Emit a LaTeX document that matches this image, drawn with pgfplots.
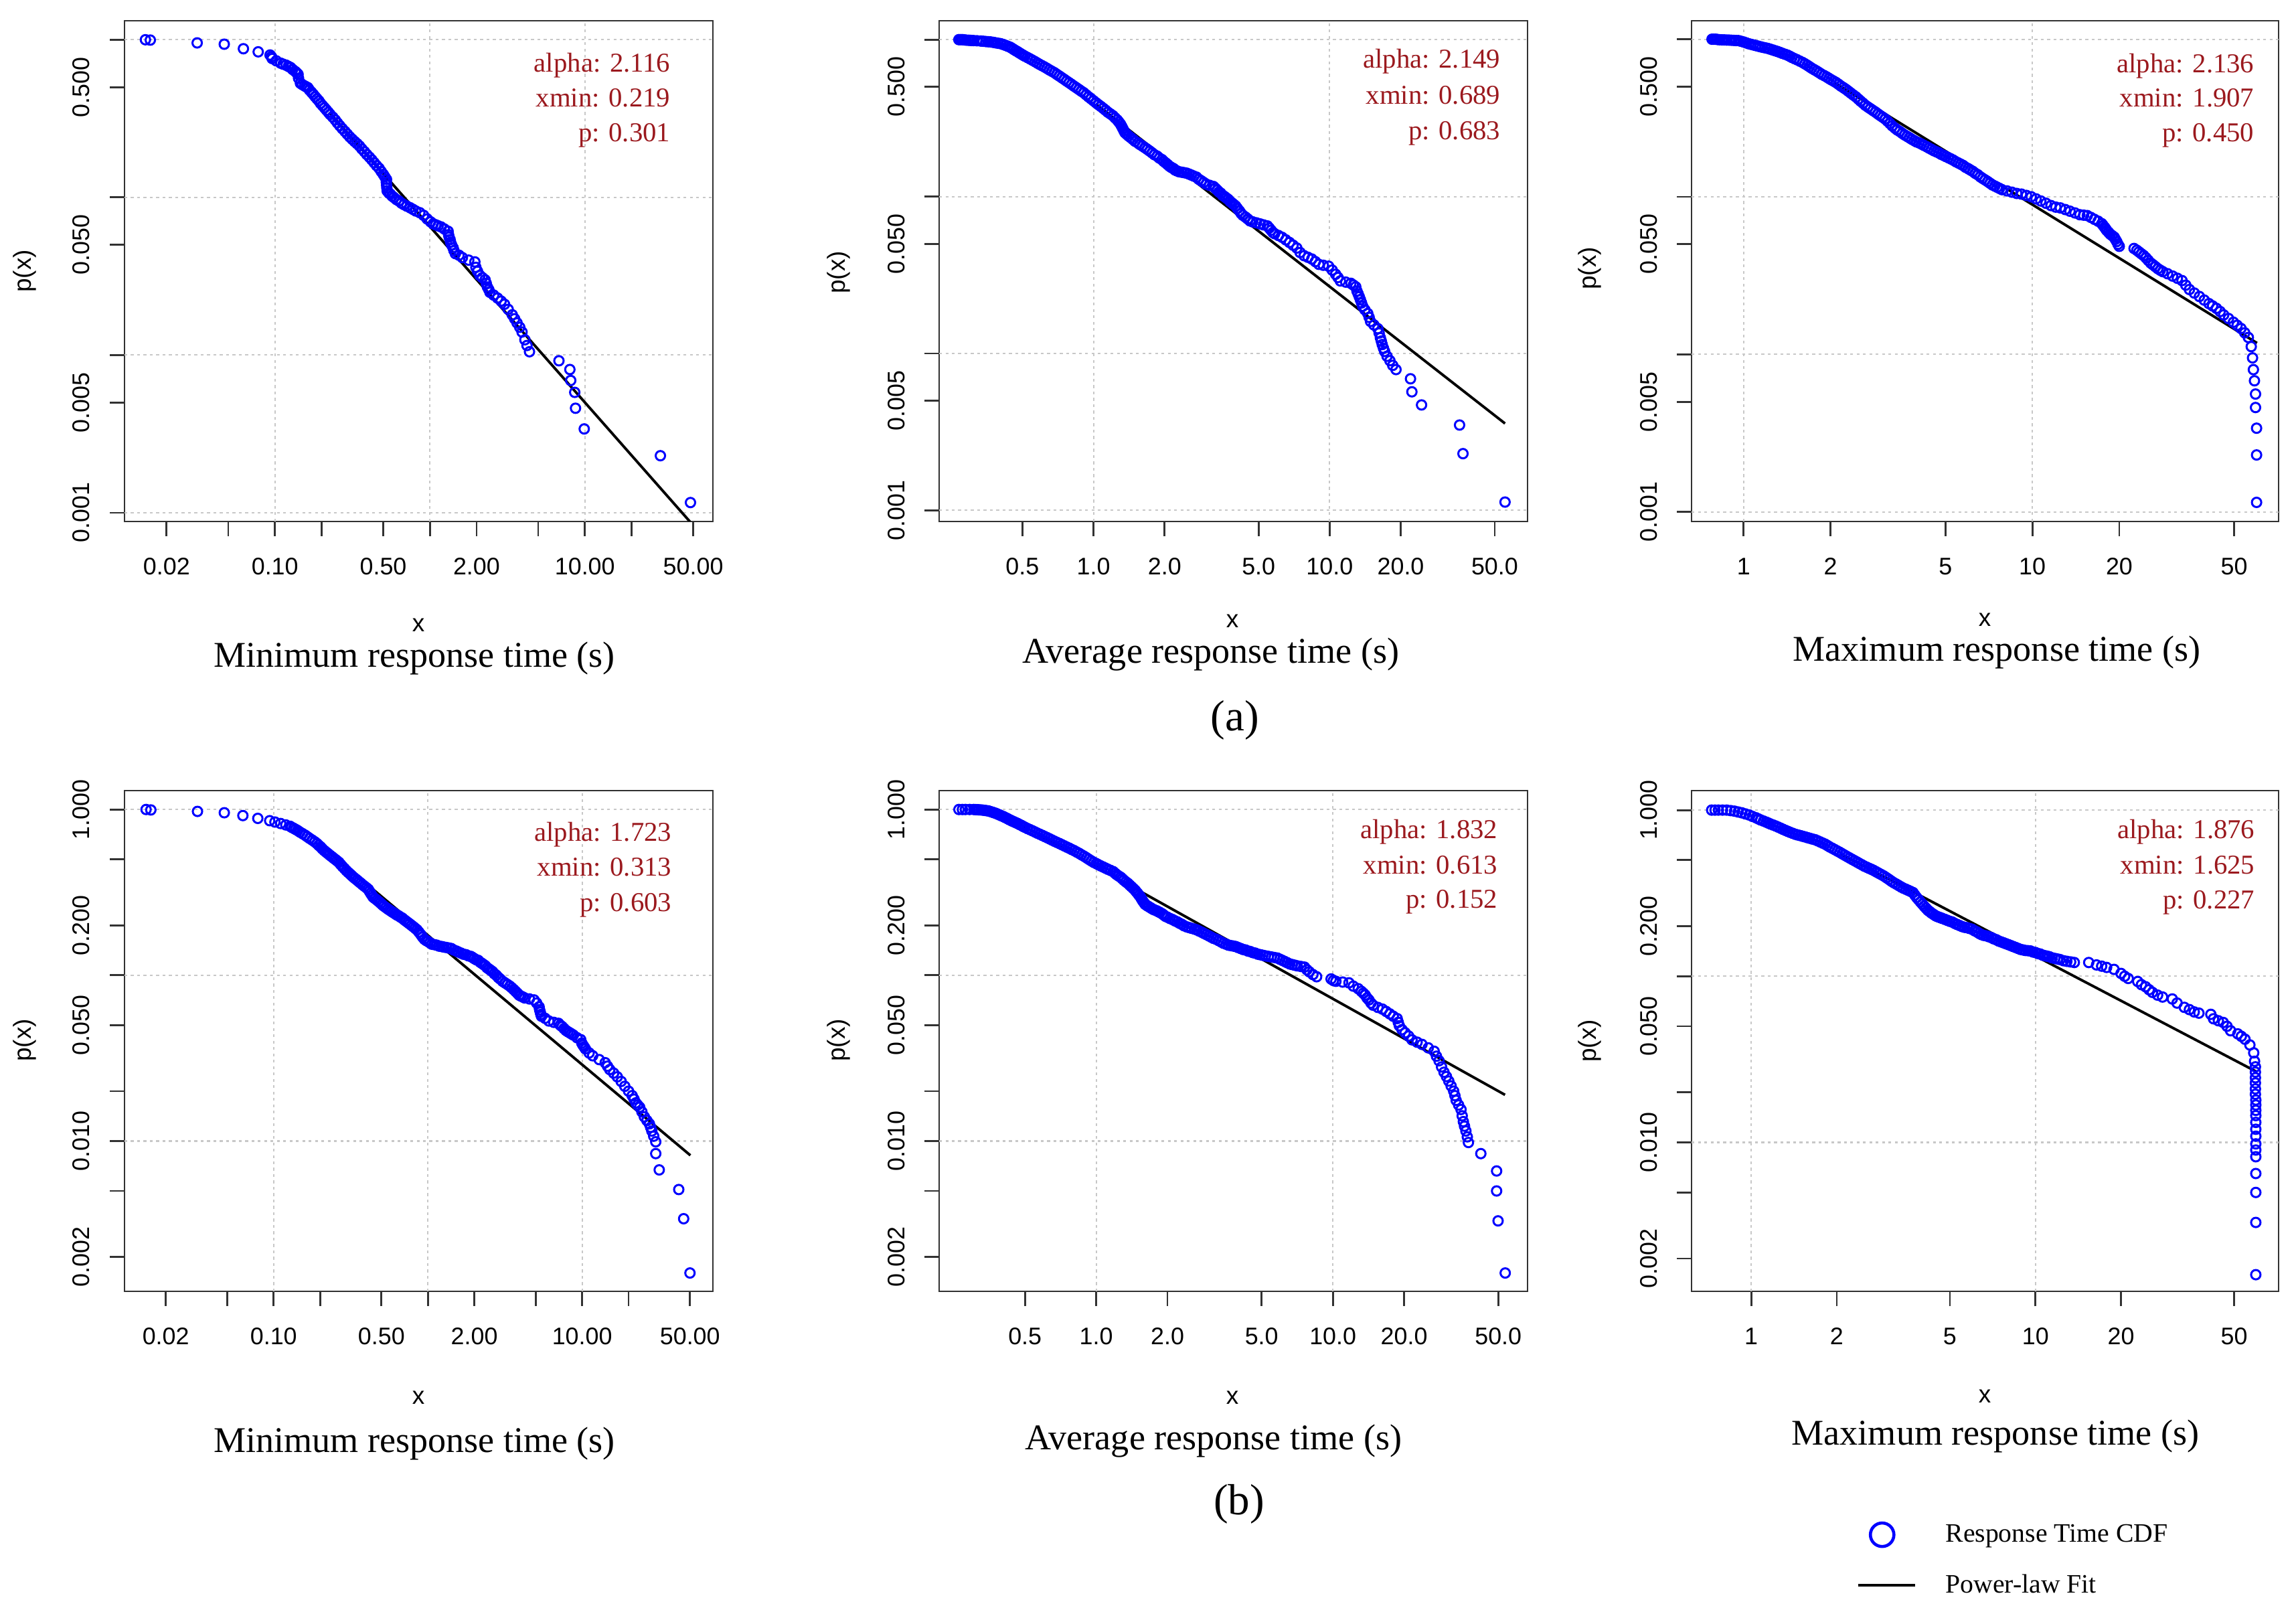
\documentclass[border=0pt]{standalone}
\usepackage{fontspec}
\setmainfont{Liberation Serif}
\setsansfont{Liberation Sans}
\usepackage{pgfplots}
\pgfplotsset{compat=1.18}

\definecolor{annot}{RGB}{155,25,30}
\definecolor{gridgray}{RGB}{200,200,200}
\definecolor{boxgray}{RGB}{50,50,50}

\newcommand{\tickfont}{\sffamily\fontsize{10.2}{12}\selectfont}
\newcommand{\labfont}{\sffamily\fontsize{10.5}{12.5}\selectfont}
\newcommand{\capfont}{\fontsize{15.4}{18}\selectfont}
\newcommand{\annfont}{\fontsize{11.6}{14}\selectfont}
\newcommand{\subfont}{\fontsize{18.5}{22}\selectfont}
\newcommand{\legfont}{\fontsize{11.3}{13.5}\selectfont}

\pgfplotsset{
  respax/.style={
    scale only axis,
    axis line style={boxgray, line width=0.8pt},
    tick align=outside, major tick length=0.22cm,
    tick style={boxgray, line width=0.8pt},
    xtick pos=left, ytick pos=left,
    xticklabel style={font=\tickfont, inner sep=0pt, anchor=north},
    yticklabel style={font=\tickfont, inner sep=0pt, rotate=90, anchor=south},
    xticklabel shift=0.32cm, yticklabel shift=0.29cm,
    extra x ticks={0.1,1,10}, extra x tick labels={},
    extra y ticks={1,0.1,0.01,0.001}, extra y tick labels={},
    extra x tick style={grid=major}, extra y tick style={grid=major},
    major grid style={gridgray, line width=0.6pt, dash pattern=on 1.2pt off 1.5pt},
  },
  cdfpts/.style={only marks, mark=o, mark size=2pt, blue, mark options={line width=0.85pt}, forget plot},
  fitline/.style={no marks, black, line width=1.1pt, forget plot},
  legcirc/.style={only marks, mark=o, mark size=5pt, blue, line width=1.3pt,
    legend image code/.code={\draw[##1] plot coordinates {(0.36cm,0cm)};}},
  legline/.style={black, line width=1pt,
    legend image code/.code={\draw[##1] (0cm,0cm) -- (0.85cm,0cm);}},
  xminresp/.style={xtick={0.02,0.05,0.1,0.2,0.5,1,2,5,10,20,50},
    xticklabels={0.02,,0.10,,0.50,,2.00,,10.00,,50.00}},
  xavgresp/.style={xtick={0.5,1,2,5,10,20,50},
    xticklabels={0.5,1.0,2.0,5.0,10.0,20.0,50.0}},
  xmaxresp/.style={xtick={1,2,5,10,20,50},
    xticklabels={1,2,5,10,20,50}},
  ytop/.style={ytick={0.001,0.005,0.01,0.05,0.1,0.5,1},
    yticklabels={0.001,0.005,,0.050,,0.500,}},
  ybot/.style={ytick={0.002,0.005,0.01,0.02,0.05,0.1,0.2,0.5,1},
    yticklabels={0.002,,0.010,,0.050,,0.200,,1.000}},
}

\begin{document}
\begin{tikzpicture}
\path[use as bounding box] (0,0) rectangle (34.30,24.08);

% ---------- (a) minimum ----------
\begin{loglogaxis}[respax, anchor=south west, at={(1.86cm,16.29cm)}, width=8.79cm, height=7.48cm,
  xmin=0.0107, xmax=67, ymin=0.00088, ymax=1.32, xminresp, ytop]
\addplot[cdfpts] coordinates {
(0.0146,1.0)(0.0157,0.995)(0.0315,0.955)(0.0471,0.937)(0.0626,0.877)(0.078,0.838)
(0.093,0.80)(0.095,0.78)(0.096,0.76)(0.102,0.735)(0.109,0.71)(0.113,0.70)(0.118,0.69)
(0.122,0.678)(0.126,0.667)(0.13,0.648)(0.135,0.63)(0.138,0.617)(0.141,0.604)(0.142,0.57)
(0.146,0.53)(0.15,0.52)(0.155,0.51)(0.159,0.503)(0.163,0.497)(0.167,0.48)(0.172,0.465)
(0.177,0.45)(0.182,0.435)(0.187,0.422)(0.192,0.41)(0.197,0.395)(0.203,0.382)(0.209,0.37)
(0.215,0.358)(0.221,0.347)(0.227,0.336)(0.236,0.323)(0.245,0.31)(0.253,0.297)(0.262,0.285)
(0.272,0.273)(0.283,0.262)(0.293,0.252)(0.304,0.242)(0.315,0.234)(0.327,0.226)(0.339,0.219)
(0.351,0.212)(0.364,0.203)(0.378,0.195)(0.392,0.187)(0.407,0.18)(0.422,0.173)(0.437,0.166)
(0.453,0.159)(0.47,0.153)(0.485,0.146)(0.50,0.14)(0.512,0.135)(0.525,0.13)(0.523,0.125)
(0.525,0.12)(0.527,0.115)(0.53,0.11)(0.542,0.107)(0.555,0.105)(0.57,0.102)(0.585,0.1)
(0.607,0.097)(0.63,0.095)(0.655,0.092)(0.68,0.09)(0.71,0.088)(0.745,0.086)(0.777,0.084)
(0.81,0.082)(0.86,0.08)(0.91,0.077)(0.96,0.073)(1.01,0.07)(1.05,0.068)(1.09,0.067)
(1.13,0.066)(1.18,0.065)(1.24,0.063)(1.31,0.061)(1.32,0.058)(1.33,0.056)(1.35,0.054)
(1.36,0.052)(1.38,0.05)(1.41,0.048)(1.43,0.046)(1.46,0.044)(1.54,0.043)(1.62,0.0415)
(1.78,0.04)(1.95,0.039)(1.98,0.036)(2.03,0.034)(2.1,0.032)(2.18,0.031)(2.27,0.03)
(2.31,0.0285)(2.35,0.027)(2.4,0.026)(2.44,0.025)(2.58,0.024)(2.73,0.023)(2.88,0.022)
(3.03,0.021)(3.2,0.0195)(3.4,0.018)(3.52,0.017)(3.65,0.016)(3.8,0.015)(3.93,0.014)
(4.1,0.0125)(4.23,0.0115)(4.39,0.0105)(6.8,0.0092)(8.0,0.0081)(8.1,0.0069)
(8.6,0.0058)(8.7,0.0046)(9.9,0.0034)(30.7,0.0023)(48,0.00116)
};
\addplot[fitline] coordinates {(0.224,0.347)(48,0.00087)};
\end{loglogaxis}

% ---------- (a) average ----------
\begin{loglogaxis}[respax, anchor=south west, at={(14.03cm,16.29cm)}, width=8.79cm, height=7.48cm,
  xmin=0.222, xmax=68.9, ymin=0.00085, ymax=1.32, xavgresp, ytop]
\addplot[cdfpts] coordinates {
(0.269,1.0)(0.274,1.0)(0.279,1.0)(0.284,0.996)(0.289,0.993)(0.295,0.991)(0.30,0.99)
(0.305,0.988)(0.31,0.987)(0.321,0.984)(0.333,0.98)(0.341,0.977)(0.35,0.973)(0.358,0.97)
(0.367,0.967)(0.376,0.961)(0.385,0.955)(0.394,0.949)(0.404,0.943)(0.414,0.932)(0.424,0.92)
(0.434,0.907)(0.444,0.895)(0.452,0.88)(0.46,0.865)(0.468,0.851)(0.477,0.838)(0.485,0.824)
(0.494,0.81)(0.503,0.797)(0.512,0.785)(0.525,0.77)(0.538,0.755)(0.551,0.74)(0.564,0.726)
(0.577,0.711)(0.59,0.697)(0.605,0.683)(0.62,0.67)(0.635,0.656)(0.65,0.642)(0.666,0.629)
(0.683,0.616)(0.699,0.601)(0.716,0.587)(0.733,0.573)(0.751,0.559)(0.769,0.545)(0.788,0.532)
(0.807,0.519)(0.826,0.506)(0.846,0.494)(0.866,0.482)(0.887,0.47)(0.909,0.459)(0.931,0.445)
(0.953,0.432)(0.976,0.42)(1.0,0.408)(1.025,0.396)(1.05,0.385)(1.075,0.375)(1.1,0.365)
(1.125,0.355)(1.15,0.345)(1.18,0.336)(1.21,0.327)(1.235,0.317)(1.26,0.308)(1.28,0.299)
(1.3,0.29)(1.315,0.281)(1.33,0.272)(1.345,0.263)(1.36,0.255)(1.385,0.249)(1.41,0.243)
(1.44,0.237)(1.47,0.231)(1.5,0.225)(1.54,0.22)(1.57,0.215)(1.61,0.21)(1.65,0.205)
(1.69,0.2)(1.73,0.195)(1.77,0.19)(1.81,0.185)(1.86,0.181)(1.9,0.176)(1.95,0.172)
(1.98,0.168)(2.02,0.164)(2.06,0.16)(2.1,0.156)(2.14,0.153)(2.18,0.151)(2.21,0.148)
(2.25,0.146)(2.3,0.144)(2.36,0.143)(2.42,0.142)(2.48,0.141)(2.54,0.139)(2.6,0.137)
(2.66,0.135)(2.73,0.133)(2.79,0.129)(2.86,0.126)(2.93,0.123)(3.0,0.12)(3.1,0.118)
(3.22,0.116)(3.28,0.113)(3.34,0.11)(3.4,0.107)(3.46,0.105)(3.52,0.102)(3.59,0.1)
(3.65,0.098)(3.72,0.096)(3.79,0.093)(3.86,0.091)(3.93,0.089)(4.0,0.087)(4.07,0.084)
(4.15,0.081)(4.22,0.078)(4.29,0.076)(4.4,0.074)(4.5,0.072)(4.6,0.07)(4.72,0.069)
(4.9,0.068)(5.07,0.067)(5.25,0.066)(5.45,0.065)(5.55,0.063)(5.65,0.061)(5.75,0.059)
(5.85,0.058)(6.07,0.0565)(6.29,0.055)(6.52,0.053)(6.76,0.051)(7.0,0.049)(7.26,0.047)
(7.5,0.044)(7.8,0.042)(8.1,0.041)(8.4,0.04)(8.7,0.0385)(9.0,0.037)(9.4,0.0365)
(9.9,0.036)(10.25,0.034)(10.6,0.032)(10.85,0.0305)(11.1,0.029)(11.7,0.0285)(12.3,0.028)
(12.6,0.0273)(12.9,0.0266)(13.05,0.025)(13.2,0.024)(13.35,0.023)(13.5,0.022)(13.65,0.021)
(13.8,0.02)(14.1,0.019)(14.5,0.018)(14.7,0.017)(14.9,0.016)(15.4,0.0152)(16.0,0.0144)
(16.2,0.0135)(16.4,0.0126)(16.55,0.012)(16.7,0.0114)(16.9,0.0108)(17.1,0.0103)
(17.5,0.0096)(18.0,0.009)(18.5,0.0084)(19.1,0.0079)(22.0,0.0069)(22.3,0.0057)
(24.5,0.0047)(35.5,0.0035)(36.7,0.0023)(55.3,0.00113)
};
\addplot[fitline] coordinates {(1.02,0.39)(55.3,0.00358)};
\end{loglogaxis}

% ---------- (a) maximum ----------
\begin{loglogaxis}[respax, anchor=south west, at={(25.27cm,16.29cm)}, width=8.77cm, height=7.48cm,
  xmin=0.66, xmax=71.3, ymin=0.00087, ymax=1.31, xmaxresp, ytop]
\addplot[cdfpts] coordinates {
(0.777,1.0)(0.788,1.0)(0.80,1.0)(0.811,0.996)(0.823,0.993)(0.84,0.991)(0.856,0.99)
(0.873,0.988)(0.89,0.987)(0.907,0.985)(0.925,0.983)(0.942,0.981)(0.96,0.98)(0.98,0.97)
(1.0,0.96)(1.02,0.948)(1.04,0.936)(1.06,0.928)(1.08,0.92)(1.1,0.912)(1.12,0.905)
(1.14,0.897)(1.16,0.89)(1.185,0.882)(1.21,0.875)(1.235,0.865)(1.26,0.855)(1.285,0.845)
(1.31,0.836)(1.335,0.825)(1.36,0.814)(1.39,0.803)(1.42,0.792)(1.445,0.779)(1.47,0.766)
(1.5,0.753)(1.53,0.741)(1.565,0.726)(1.6,0.712)(1.63,0.698)(1.66,0.684)(1.69,0.669)
(1.72,0.655)(1.755,0.641)(1.79,0.628)(1.825,0.614)(1.86,0.60)(1.9,0.588)(1.94,0.576)
(1.975,0.564)(2.01,0.553)(2.05,0.542)(2.09,0.531)(2.13,0.518)(2.17,0.505)(2.215,0.493)
(2.26,0.481)(2.305,0.468)(2.35,0.455)(2.4,0.442)(2.45,0.43)(2.495,0.417)(2.54,0.405)
(2.59,0.393)(2.64,0.381)(2.695,0.371)(2.75,0.362)(2.805,0.353)(2.86,0.345)(2.915,0.336)
(2.97,0.328)(3.03,0.32)(3.09,0.312)(3.15,0.302)(3.21,0.292)(3.27,0.282)(3.34,0.273)
(3.4,0.266)(3.47,0.26)(3.54,0.253)(3.61,0.247)(3.68,0.242)(3.75,0.237)(3.82,0.232)
(3.9,0.227)(3.97,0.223)(4.05,0.22)(4.13,0.216)(4.21,0.212)(4.3,0.208)(4.38,0.204)
(4.47,0.2)(4.56,0.196)(4.65,0.193)(4.74,0.19)(4.83,0.186)(4.93,0.183)(5.02,0.18)
(5.12,0.177)(5.22,0.174)(5.32,0.171)(5.43,0.167)(5.54,0.164)(5.65,0.161)(5.76,0.158)
(5.87,0.154)(5.99,0.151)(6.1,0.148)(6.22,0.145)(6.34,0.141)(6.47,0.138)(6.6,0.134)
(6.72,0.131)(6.86,0.128)(7.0,0.125)(7.13,0.122)(7.27,0.119)(7.41,0.117)(7.55,0.115)
(7.7,0.113)(7.85,0.111)(8.17,0.109)(8.49,0.107)(8.83,0.105)(9.17,0.104)(9.54,0.102)
(9.91,0.1)(10.3,0.097)(10.7,0.094)(11.15,0.091)(11.6,0.088)(12.05,0.086)(12.5,0.085)
(13.0,0.083)(13.5,0.081)(14.05,0.079)(14.6,0.077)(15.05,0.0765)(15.5,0.076)(15.95,0.074)
(16.4,0.072)(16.9,0.07)(17.4,0.0675)(17.6,0.0657)(17.8,0.064)(17.95,0.0626)(18.1,0.0612)
(18.35,0.0596)(18.6,0.058)(18.9,0.0567)(19.2,0.0555)(19.4,0.0537)(19.6,0.052)(19.8,0.05)
(20.0,0.0485)(22.5,0.047)(23.0,0.0458)(23.4,0.0447)(23.85,0.0435)(24.3,0.0424)(24.75,0.041)
(25.2,0.0395)(25.7,0.038)(26.2,0.037)(26.7,0.036)(27.2,0.035)(27.75,0.0342)(28.3,0.0335)
(29.4,0.0325)(30.6,0.0314)(31.8,0.0304)(33.0,0.0294)(34.0,0.0275)(35.0,0.0258)(36.4,0.0245)
(37.9,0.0233)(39.4,0.0221)(40.9,0.021)(42.1,0.0203)(43.4,0.0196)(44.7,0.0187)(46.0,0.0178)
(47.8,0.0169)(49.7,0.016)(51.2,0.0153)(52.8,0.0146)(54.4,0.0137)(56.0,0.0128)(57.3,0.0112)
(57.9,0.0095)(58.3,0.0080)(58.8,0.0068)(59.3,0.0056)(59.3,0.0046)(59.8,0.0034)
(59.8,0.0023)(59.8,0.00115)
};
\addplot[fitline] coordinates {(2.06,0.531)(60,0.0118)};
\end{loglogaxis}

% ---------- (b) minimum ----------
\begin{loglogaxis}[respax, anchor=south west, at={(1.86cm,4.79cm)}, width=8.79cm, height=7.48cm,
  xmin=0.0108, xmax=70.4, ymin=0.00124, ymax=1.30, xminresp, ybot]
\addplot[cdfpts] coordinates {
(0.0149,1.0)(0.016,0.994)(0.0321,0.974)(0.0479,0.956)(0.0632,0.919)(0.079,0.884)
(0.0943,0.856)(0.102,0.84)(0.111,0.823)(0.12,0.807)(0.128,0.792)(0.131,0.781)(0.135,0.77)
(0.139,0.758)(0.143,0.747)(0.148,0.731)(0.154,0.715)(0.16,0.7)(0.165,0.686)(0.171,0.67)
(0.178,0.654)(0.185,0.638)(0.191,0.623)(0.196,0.608)(0.202,0.594)(0.207,0.579)(0.213,0.565)
(0.219,0.553)(0.225,0.542)(0.231,0.531)(0.238,0.52)(0.244,0.51)(0.251,0.50)(0.258,0.49)
(0.265,0.48)(0.272,0.466)(0.28,0.452)(0.288,0.44)(0.296,0.428)(0.304,0.418)(0.313,0.408)
(0.321,0.399)(0.33,0.39)(0.339,0.382)(0.349,0.374)(0.358,0.366)(0.368,0.359)(0.378,0.351)
(0.389,0.344)(0.4,0.337)(0.411,0.33)(0.418,0.321)(0.426,0.312)(0.434,0.304)(0.442,0.296)
(0.455,0.29)(0.468,0.284)(0.481,0.278)(0.494,0.272)(0.507,0.266)(0.52,0.261)(0.535,0.256)
(0.55,0.251)(0.565,0.247)(0.58,0.243)(0.596,0.239)(0.613,0.235)(0.63,0.231)(0.648,0.228)
(0.666,0.224)(0.684,0.221)(0.703,0.216)(0.722,0.212)(0.742,0.208)(0.763,0.204)(0.784,0.2)
(0.806,0.196)(0.828,0.192)(0.851,0.188)(0.875,0.182)(0.9,0.176)(0.924,0.17)(0.949,0.165)
(0.975,0.162)(1.0,0.16)(1.03,0.157)(1.06,0.154)(1.1,0.153)(1.14,0.152)(1.18,0.15)
(1.23,0.149)(1.27,0.148)(1.32,0.147)(1.37,0.146)(1.42,0.145)(1.47,0.142)(1.53,0.14)
(1.58,0.138)(1.64,0.136)(1.7,0.134)(1.77,0.133)(1.83,0.131)(1.9,0.13)(1.95,0.128)
(2.0,0.126)(2.06,0.124)(2.12,0.123)(2.18,0.12)(2.24,0.118)(2.3,0.116)(2.36,0.114)
(2.42,0.111)(2.49,0.109)(2.56,0.107)(2.63,0.105)(2.7,0.102)(2.78,0.1)(2.86,0.097)
(2.94,0.095)(3.05,0.092)(3.16,0.09)(3.28,0.088)(3.4,0.086)(3.5,0.084)(3.6,0.082)
(3.7,0.08)(3.8,0.078)(3.9,0.076)(4.0,0.075)(4.12,0.074)(4.24,0.073)(4.55,0.072)
(4.88,0.071)(5.07,0.068)(5.26,0.0645)(5.3,0.062)(5.35,0.06)(5.4,0.058)(5.45,0.0566)
(5.75,0.055)(6.08,0.053)(6.55,0.052)(7.03,0.0513)(7.22,0.05)(7.42,0.049)(7.63,0.0477)
(7.85,0.0465)(8.07,0.0457)(8.3,0.045)(8.53,0.0443)(8.77,0.0436)(9.27,0.042)(9.79,0.0409)
(9.95,0.039)(10.1,0.038)(10.3,0.037)(10.5,0.036)(11.1,0.034)(11.7,0.0327)(12.9,0.031)
(14.1,0.0297)(14.6,0.0283)(15.1,0.027)(16.0,0.0257)(16.9,0.0244)(17.9,0.0229)(18.9,0.0214)
(20.0,0.02)(21.1,0.0188)(21.7,0.0179)(22.3,0.017)(22.9,0.0165)(23.6,0.016)(24.4,0.015)
(25.3,0.014)(26.3,0.0133)(27.3,0.0127)(27.8,0.0121)(28.3,0.0115)(29.1,0.0107)(30.0,0.0099)
(30.0,0.0084)(31.6,0.0067)(42.3,0.0051)(45.5,0.0034)(50.0,0.0016)
};
\addplot[fitline] coordinates {(0.2,0.611)(50.3,0.0082)};
\end{loglogaxis}

% ---------- (b) average ----------
\begin{loglogaxis}[respax, anchor=south west, at={(14.03cm,4.79cm)}, width=8.79cm, height=7.48cm,
  xmin=0.217, xmax=66.5, ymin=0.00124, ymax=1.30, xavgresp, ybot]
\addplot[cdfpts] coordinates {
(0.263,1.0)(0.272,1.0)(0.28,1.0)(0.292,1.0)(0.304,1.0)(0.31,0.998)(0.315,0.997)(0.32,0.995)
(0.326,0.994)(0.332,0.991)(0.338,0.988)(0.344,0.984)(0.35,0.981)(0.356,0.973)(0.363,0.965)
(0.369,0.957)(0.376,0.949)(0.383,0.938)(0.39,0.928)(0.397,0.917)(0.405,0.907)(0.412,0.895)
(0.42,0.884)(0.427,0.872)(0.435,0.861)(0.442,0.851)(0.45,0.842)(0.458,0.832)(0.466,0.823)
(0.474,0.812)(0.483,0.802)(0.491,0.791)(0.5,0.781)(0.512,0.768)(0.525,0.756)(0.538,0.744)
(0.551,0.732)(0.564,0.72)(0.578,0.709)(0.592,0.698)(0.606,0.687)(0.621,0.676)(0.636,0.665)
(0.651,0.654)(0.667,0.643)(0.683,0.633)(0.70,0.623)(0.717,0.613)(0.734,0.603)(0.752,0.593)
(0.77,0.584)(0.788,0.574)(0.807,0.565)(0.827,0.554)(0.847,0.544)(0.867,0.533)(0.888,0.523)
(0.909,0.512)(0.93,0.501)(0.953,0.49)(0.976,0.48)(1.0,0.472)(1.02,0.465)(1.045,0.457)
(1.07,0.45)(1.095,0.443)(1.12,0.436)(1.15,0.429)(1.18,0.422)(1.2,0.413)(1.22,0.405)
(1.245,0.397)(1.27,0.39)(1.29,0.382)(1.31,0.374)(1.335,0.366)(1.36,0.359)(1.385,0.35)
(1.41,0.342)(1.435,0.334)(1.46,0.326)(1.48,0.318)(1.5,0.311)(1.52,0.303)(1.54,0.296)
(1.555,0.289)(1.57,0.282)(1.59,0.275)(1.61,0.268)(1.64,0.263)(1.67,0.259)(1.7,0.255)
(1.73,0.251)(1.76,0.248)(1.8,0.245)(1.83,0.242)(1.86,0.239)(1.9,0.235)(1.93,0.231)
(1.96,0.227)(2.0,0.224)(2.05,0.22)(2.1,0.217)(2.15,0.213)(2.2,0.21)(2.25,0.206)(2.3,0.203)
(2.35,0.199)(2.41,0.196)(2.47,0.194)(2.53,0.192)(2.6,0.19)(2.66,0.188)(2.72,0.185)
(2.79,0.182)(2.85,0.179)(2.92,0.176)(2.99,0.173)(3.06,0.17)(3.13,0.167)(3.21,0.165)
(3.29,0.162)(3.37,0.159)(3.45,0.156)(3.54,0.154)(3.62,0.152)(3.71,0.151)(3.8,0.15)
(3.89,0.149)(3.98,0.147)(4.08,0.145)(4.18,0.143)(4.28,0.142)(4.38,0.14)(4.48,0.139)
(4.59,0.137)(4.7,0.136)(4.82,0.134)(4.94,0.133)(5.06,0.132)(5.18,0.131)(5.34,0.13)
(5.5,0.129)(5.66,0.128)(5.83,0.127)(5.97,0.125)(6.12,0.123)(6.27,0.121)(6.42,0.119)
(6.58,0.117)(6.74,0.116)(6.9,0.115)(7.07,0.114)(7.33,0.113)(7.59,0.112)(7.77,0.108)
(7.95,0.105)(8.24,0.101)(8.54,0.098)(9.83,0.095)(10.05,0.093)(10.3,0.092)(11.0,0.091)
(11.7,0.09)(12.2,0.086)(12.8,0.083)(13.2,0.08)(13.45,0.078)(13.7,0.076)(13.95,0.073)
(14.2,0.071)(14.5,0.068)(14.8,0.066)(15.5,0.064)(16.2,0.0625)(16.8,0.0605)(17.4,0.0585)
(18.0,0.0566)(18.7,0.0548)(18.9,0.052)(19.1,0.0496)(19.6,0.047)(20.2,0.045)(20.9,0.043)
(21.6,0.0408)(22.7,0.0395)(23.8,0.0383)(25.3,0.0365)(26.8,0.0348)(27.4,0.0325)(28.1,0.0305)
(28.8,0.028)(29.5,0.026)(30.2,0.0245)(30.9,0.023)(31.6,0.0215)(32.4,0.02)(32.8,0.0188)
(33.2,0.0176)(34.0,0.0165)(34.8,0.0155)(35.2,0.0142)(35.6,0.0131)(36.0,0.0123)(36.5,0.0115)
(37.0,0.0106)(37.4,0.0098)(42.2,0.0084)(49.2,0.0066)(49.2,0.005)(49.9,0.0033)(53.5,0.0016)
};
\addplot[fitline] coordinates {(0.49,0.797)(53.4,0.019)};
\end{loglogaxis}

% ---------- (b) maximum ----------
\begin{loglogaxis}[respax, anchor=south west, at={(25.27cm,4.79cm)}, width=8.77cm, height=7.48cm,
  xmin=0.617, xmax=71.7, ymin=0.00127, ymax=1.31, xmaxresp, ybot,
  legend style={at={(0.2816,-0.4626)}, anchor=north west, draw=none, fill=none,
    inner sep=0pt, outer sep=0pt, column sep=0.44cm, row sep=0.415cm,
    font=\legfont, nodes={inner sep=0pt}},
  legend cell align=left]
\addplot[cdfpts] coordinates {
(0.726,1.0)(0.746,1.0)(0.767,1.0)(0.793,1.0)(0.82,1.0)(0.847,0.993)(0.874,0.985)(0.9,0.974)
(0.927,0.963)(0.955,0.948)(0.984,0.934)(1.01,0.916)(1.04,0.899)(1.06,0.885)(1.08,0.872)
(1.105,0.859)(1.13,0.846)(1.15,0.835)(1.17,0.824)(1.195,0.813)(1.22,0.802)(1.245,0.79)
(1.27,0.778)(1.295,0.766)(1.32,0.755)(1.345,0.745)(1.37,0.735)(1.4,0.725)(1.43,0.715)
(1.46,0.708)(1.49,0.702)(1.52,0.695)(1.55,0.689)(1.58,0.682)(1.61,0.676)(1.645,0.669)
(1.68,0.663)(1.715,0.653)(1.75,0.643)(1.785,0.633)(1.82,0.624)(1.855,0.612)(1.89,0.6)
(1.93,0.589)(1.97,0.578)(2.01,0.567)(2.05,0.557)(2.09,0.546)(2.13,0.536)(2.175,0.525)
(2.22,0.515)(2.265,0.505)(2.31,0.496)(2.355,0.487)(2.4,0.478)(2.45,0.469)(2.5,0.46)
(2.55,0.453)(2.6,0.446)(2.65,0.44)(2.7,0.433)(2.755,0.425)(2.81,0.417)(2.87,0.409)
(2.93,0.401)(2.99,0.392)(3.05,0.383)(3.11,0.374)(3.17,0.366)(3.235,0.359)(3.3,0.352)
(3.365,0.345)(3.43,0.339)(3.5,0.334)(3.57,0.329)(3.64,0.324)(3.71,0.319)(3.765,0.308)
(3.82,0.298)(3.88,0.289)(3.94,0.28)(4.0,0.272)(4.06,0.264)(4.12,0.257)(4.18,0.25)
(4.245,0.245)(4.31,0.24)(4.375,0.236)(4.44,0.232)(4.505,0.229)(4.57,0.227)(4.635,0.225)
(4.7,0.223)(4.8,0.22)(4.9,0.217)(5.0,0.214)(5.1,0.212)(5.2,0.208)(5.3,0.205)(5.41,0.202)
(5.52,0.199)(5.63,0.197)(5.75,0.196)(5.86,0.194)(5.98,0.192)(6.1,0.188)(6.22,0.185)
(6.34,0.181)(6.46,0.178)(6.59,0.176)(6.72,0.175)(6.85,0.173)(6.99,0.171)(7.13,0.168)
(7.28,0.166)(7.42,0.163)(7.57,0.161)(7.72,0.159)(7.87,0.157)(8.03,0.155)(8.19,0.153)
(8.35,0.151)(8.52,0.149)(8.69,0.147)(8.86,0.145)(9.04,0.144)(9.22,0.143)(9.41,0.1425)
(9.6,0.142)(9.8,0.14)(10.0,0.139)(10.2,0.137)(10.4,0.136)(10.6,0.134)(10.8,0.133)
(11.0,0.132)(11.2,0.131)(11.45,0.129)(11.7,0.128)(11.95,0.127)(12.2,0.126)(12.55,0.124)
(12.9,0.123)(13.3,0.122)(13.7,0.121)(15.4,0.121)(16.4,0.117)(17.1,0.115)(17.8,0.113)
(18.9,0.11)(20.0,0.104)(20.6,0.1)(21.2,0.097)(22.9,0.093)(23.6,0.089)(24.4,0.0865)
(25.1,0.083)(25.8,0.08)(26.9,0.077)(28.0,0.075)(30.3,0.073)(31.5,0.069)(33.4,0.065)
(34.8,0.063)(36.2,0.061)(37.6,0.06)(41.4,0.059)(42.3,0.0555)(44.0,0.054)(45.8,0.0527)
(47.2,0.05)(48.6,0.047)(51.5,0.045)(53.0,0.0435)(54.6,0.0418)(56.8,0.0386)(58.6,0.0346)
(59.0,0.0308)(59.4,0.0285)(59.4,0.0265)(59.4,0.0245)(59.4,0.0228)(59.4,0.021)
(59.4,0.0195)(59.6,0.018)(59.6,0.0168)(59.6,0.0156)(59.6,0.0145)(59.6,0.0132)
(59.6,0.012)(59.6,0.0109)(59.6,0.0098)(59.6,0.009)(59.6,0.0082)(59.6,0.0065)
(59.6,0.005)(59.6,0.0033)(59.6,0.0016)
};
\addplot[fitline] coordinates {(2.05,0.548)(60.3,0.0265)};
\addlegendimage{legcirc}
\addlegendentry{Response Time CDF}
\addlegendimage{legline}
\addlegendentry{Power-law Fit}
\end{loglogaxis}

% ---------- axis titles ----------
\foreach \px/\py in {0.37/20.03, 12.53/20.01, 23.75/20.07, 0.37/8.54, 12.53/8.54, 23.75/8.53}
  \node[rotate=90, font=\labfont] at (\px,\py) {p(x)};
\foreach \px/\py in {6.25/14.74, 18.41/14.80, 29.65/14.82, 6.25/3.20, 18.41/3.20, 29.65/3.22}
  \node[font=\labfont, inner sep=0pt] at (\px,\py) {x};

\begin{scope}[every node/.style={font=\capfont, inner sep=0pt}]
\node at (6.19,14.24) {Minimum response time (s)};
\node at (18.09,14.30) {Average response time (s)};
\node at (29.83,14.33) {Maximum response time (s)};
\node at (6.19,2.52) {Minimum response time (s)};
\node at (18.13,2.55) {Average response time (s)};
\node at (29.81,2.63) {Maximum response time (s)};
\end{scope}

\node[font=\subfont] at (18.45,13.32) {(a)};
\node[font=\subfont] at (18.51,1.61) {(b)};

% ---------- fit annotations ----------
\begin{scope}[every node/.style={anchor=base east, inner sep=0pt, text=annot, font=\annfont}]
\node at (10.02,23.00) {alpha: 2.116};
\node at (10.02,22.48) {xmin: 0.219};
\node at (10.02,21.96) {p: 0.301};
\node at (22.42,23.06) {alpha: 2.149};
\node at (22.42,22.52) {xmin: 0.689};
\node at (22.42,21.99) {p: 0.683};
\node at (33.68,22.99) {alpha: 2.136};
\node at (33.68,22.48) {xmin: 1.907};
\node at (33.68,21.96) {p: 0.450};
\node at (10.04,11.51) {alpha: 1.723};
\node at (10.04,10.99) {xmin: 0.313};
\node at (10.04,10.46) {p: 0.603};
\node at (22.38,11.55) {alpha: 1.832};
\node at (22.38,11.02) {xmin: 0.613};
\node at (22.38,10.51) {p: 0.152};
\node at (33.69,11.55) {alpha: 1.876};
\node at (33.69,11.02) {xmin: 1.625};
\node at (33.69,10.50) {p: 0.227};
\end{scope}
\end{tikzpicture}
\end{document}
